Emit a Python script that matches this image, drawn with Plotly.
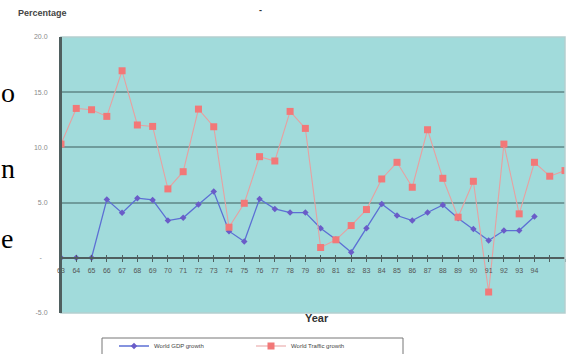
import plotly.graph_objects as go

# Years (two-digit) along the category axis
years = list(range(63, 97))
year_labels = [str(y) for y in range(63, 95)] + ["", ""]

# World GDP growth, % (1963-1994)
gdp_years = list(range(63, 95))
gdp_growth = [0.0, 0.0, 0.0, 5.27, 4.07, 5.4, 5.24, 3.37, 3.62, 4.82,
              6.0, 2.41, 1.48, 5.33, 4.43, 4.1, 4.1, 2.68, 1.66, 0.51,
              2.68, 4.88, 3.83, 3.37, 4.1, 4.79, 3.59, 2.62, 1.57, 2.47,
              2.47, 3.74]

# World traffic growth, % (1963-1996)
traffic_years = list(range(63, 97))
traffic_growth = [10.3, 13.53, 13.41, 12.81, 16.94, 12.03, 11.9, 6.24, 7.8, 13.47,
                  11.87, 2.77, 4.94, 9.16, 8.77, 13.26, 11.72, 0.93, 1.63, 2.92,
                  4.37, 7.14, 8.65, 6.39, 11.6, 7.2, 3.68, 6.93, -3.1, 10.3,
                  3.98, 8.65, 7.39, 7.9]

y_ticks = [-5, 0, 5, 10, 15, 20]
y_tick_labels = ["-5.0", "-\u00a0\u00a0\u00a0", "5.0", "10.0", "15.0", "20.0"]

W, H = 570, 354
L, R, T, B = 61, 5, 37, 41
plot_w, plot_h = W - L - R, H - T - B


def px_x(p):
    return (p - L) / plot_w


def px_y(p):
    return (H - B - p) / plot_h


fig = go.Figure()

fig.add_trace(go.Scatter(
    x=gdp_years, y=gdp_growth, name="World GDP growth",
    mode="lines+markers",
    line=dict(color="#5c6fd4", width=1.3),
    marker=dict(symbol="diamond", size=5, color="#6a5cc8"),
))
fig.add_trace(go.Scatter(
    x=traffic_years, y=traffic_growth, name="World Traffic growth",
    mode="lines+markers",
    line=dict(color="#e8a0a0", width=1.1),
    marker=dict(symbol="square", size=7, color="#f27878"),
))

axis_color = "#4f5f5f"

fig.update_layout(
    width=W, height=H,
    margin=dict(l=L, r=R, t=T, b=B, autoexpand=False),
    paper_bgcolor="white",
    plot_bgcolor="#a1dbdb",
    font=dict(family="Liberation Sans, Arial, sans-serif", color="#555"),
    showlegend=True,
    legend=dict(
        orientation="h",
        xref="container", yref="container",
        x=114 / W, y=1 - 346 / H, xanchor="left", yanchor="middle",
        borderwidth=0, bgcolor="rgba(0,0,0,0)",
        font=dict(size=6, color="#444"),
        entrywidth=92, entrywidthmode="pixels",
        itemwidth=30,
    ),
    xaxis=dict(
        range=[63, 96], anchor="free", position=0.2,
        tickvals=years, ticktext=year_labels,
        ticks="outside", ticklen=3, tickwidth=1, tickcolor=axis_color,
        tickfont=dict(size=7, color="#555"), ticklabelstandoff=3,
        showline=True, linecolor=axis_color, linewidth=2,
        showgrid=False, zeroline=False,
    ),
    xaxis2=dict(
        range=[63, 96], anchor="free", position=0.2, overlaying="x",
        tickvals=years, ticks="inside", ticklen=3, tickwidth=1,
        tickcolor=axis_color, showticklabels=False,
        showline=False, showgrid=False, zeroline=False,
    ),
    yaxis=dict(
        range=[-5, 20], tickvals=y_ticks, ticktext=y_tick_labels,
        showgrid=True, gridcolor="#6f9c9c", gridwidth=2,
        showline=True, linecolor=axis_color, linewidth=2,
        zeroline=False, ticks="", ticklabelstandoff=10,
        tickfont=dict(size=7, color="#8a8a8a"),
    ),
)

# invisible point so the overlay axis (inner tick marks) is rendered
fig.add_trace(go.Scatter(x=[63], y=[0], xaxis="x2", mode="markers",
                         marker=dict(opacity=0), showlegend=False,
                         hoverinfo="skip"))

# light frame around the plotting area
fig.add_shape(type="rect", xref="paper", yref="paper", x0=0, x1=1, y0=0, y1=1,
              line=dict(color="#b4cfcf", width=1.5), layer="above")
# redraw left axis on top of the frame
fig.add_shape(type="line", xref="paper", yref="paper", x0=0, x1=0, y0=0, y1=1,
              line=dict(color=axis_color, width=2), layer="above")
# legend box
fig.add_shape(type="rect", xref="paper", yref="paper",
              x0=px_x(102), x1=px_x(403), y0=px_y(357), y1=px_y(338),
              line=dict(color="#777", width=1), layer="above")

annotations = [
    dict(text="<b>Percentage</b>", x=px_x(17), y=px_y(13), xanchor="left",
         yanchor="middle", font=dict(size=9, color="#444")),
    dict(text="<b>-</b>", x=px_x(260), y=px_y(10), xanchor="center",
         yanchor="middle", font=dict(size=9, color="#333")),
    dict(text="<b>Year</b>", x=px_x(317), y=px_y(318), xanchor="center",
         yanchor="middle", font=dict(size=11, color="#333")),
    dict(text="o", x=px_x(0), y=px_y(92), xanchor="left", yanchor="middle",
         font=dict(size=28, color="black", family="Liberation Serif")),
    dict(text="n", x=px_x(0), y=px_y(168), xanchor="left", yanchor="middle",
         font=dict(size=28, color="black", family="Liberation Serif")),
    dict(text="e", x=px_x(0), y=px_y(238), xanchor="left", yanchor="middle",
         font=dict(size=28, color="black", family="Liberation Serif")),
]
for a in annotations:
    a.update(xref="paper", yref="paper", showarrow=False, borderpad=0)
fig.update_layout(annotations=annotations)

fig.write_html("out.html")
